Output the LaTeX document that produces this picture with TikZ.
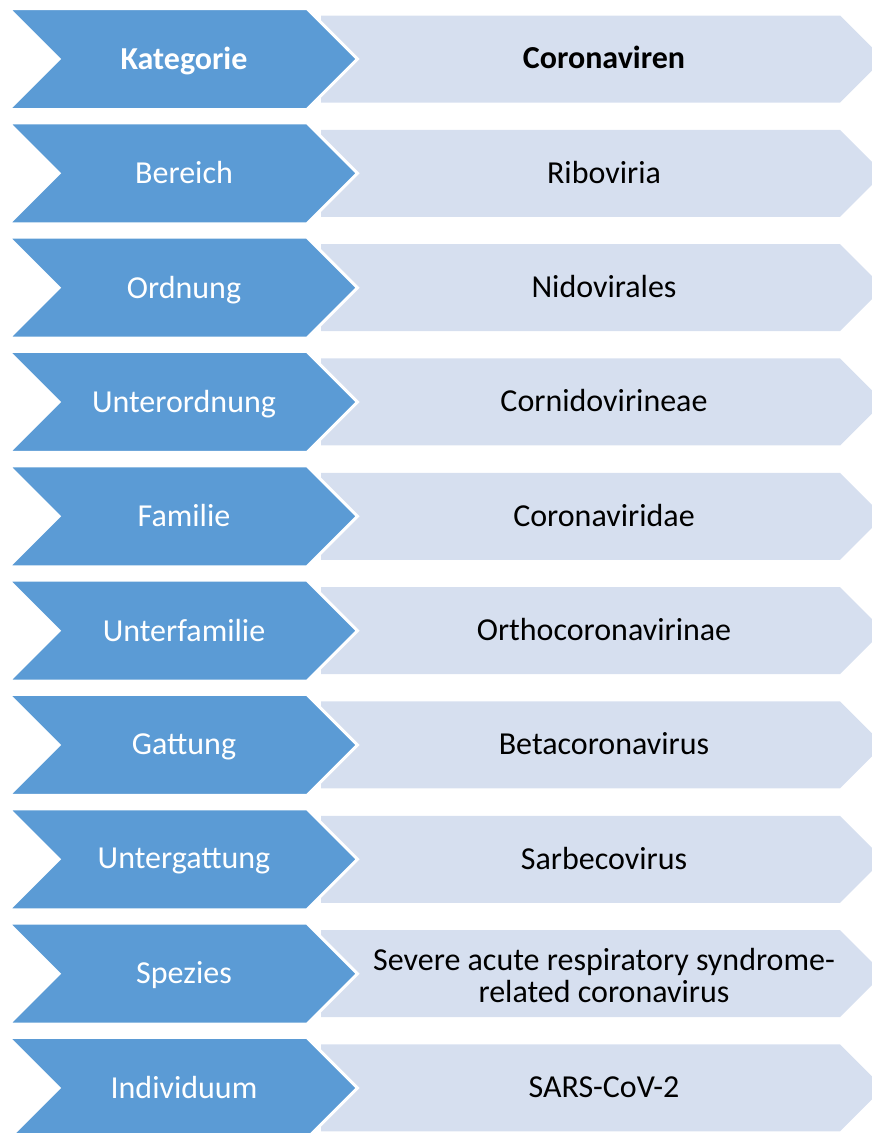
\documentclass[tikz,border=0pt]{standalone}
\usepackage{fontspec}
\setmainfont{Carlito}
\definecolor{rankblue}{RGB}{91,155,213}
\definecolor{taxonfill}{RGB}{214,223,239}
\begin{document}
\begin{tikzpicture}[x=1pt,y=-1pt,
  rank/.style={fill=rankblue,draw=white,line width=3pt,line join=miter},
  taxon/.style={fill=taxonfill},
  ranklabel/.style={text=white,font=\fontsize{32}{32}\selectfont},
  taxonlabel/.style={text=black,align=center,font=\fontsize{32}{32}\selectfont}
]
  \useasboundingbox (0,0) rectangle (872,1133);
  \clip (0,0) rectangle (872,1133);
  \foreach \rank/\taxon [count=\i from 0] in {
      \textbf{Kategorie}/\textbf{Coronaviren},
      Bereich/Riboviria,
      Ordnung/Nidovirales,
      Unterordnung/Cornidovirineae,
      Familie/Coronaviridae,
      Unterfamilie/Orthocoronavirinae,
      Gattung/Betacoronavirus,
      Untergattung/Sarbecovirus,
      Spezies/{Severe acute respiratory syndrome-\\related coronavirus},
      Individuum/SARS-CoV-2}
  {
    \pgfmathsetmacro{\y}{59+114.33*\i}
    \fill[taxon] (321,\y-43.5) -- (840,\y-43.5) -- (883.5,\y)
      -- (840,\y+43.5) -- (321,\y+43.5) -- cycle;
    \draw[rank] (8.5,\y-50.5) -- (307,\y-50.5) -- (357.5,\y)
      -- (307,\y+50.5) -- (8.5,\y+50.5) -- (59,\y) -- cycle;
    \node[ranklabel] (rank\i) at (184,\y+2) {\vphantom{Kg}\rank};
    \node[taxonlabel] (taxon\i) at (604,\y+1.5) {\vphantom{Kg}\taxon};
  }
\end{tikzpicture}
\end{document}
